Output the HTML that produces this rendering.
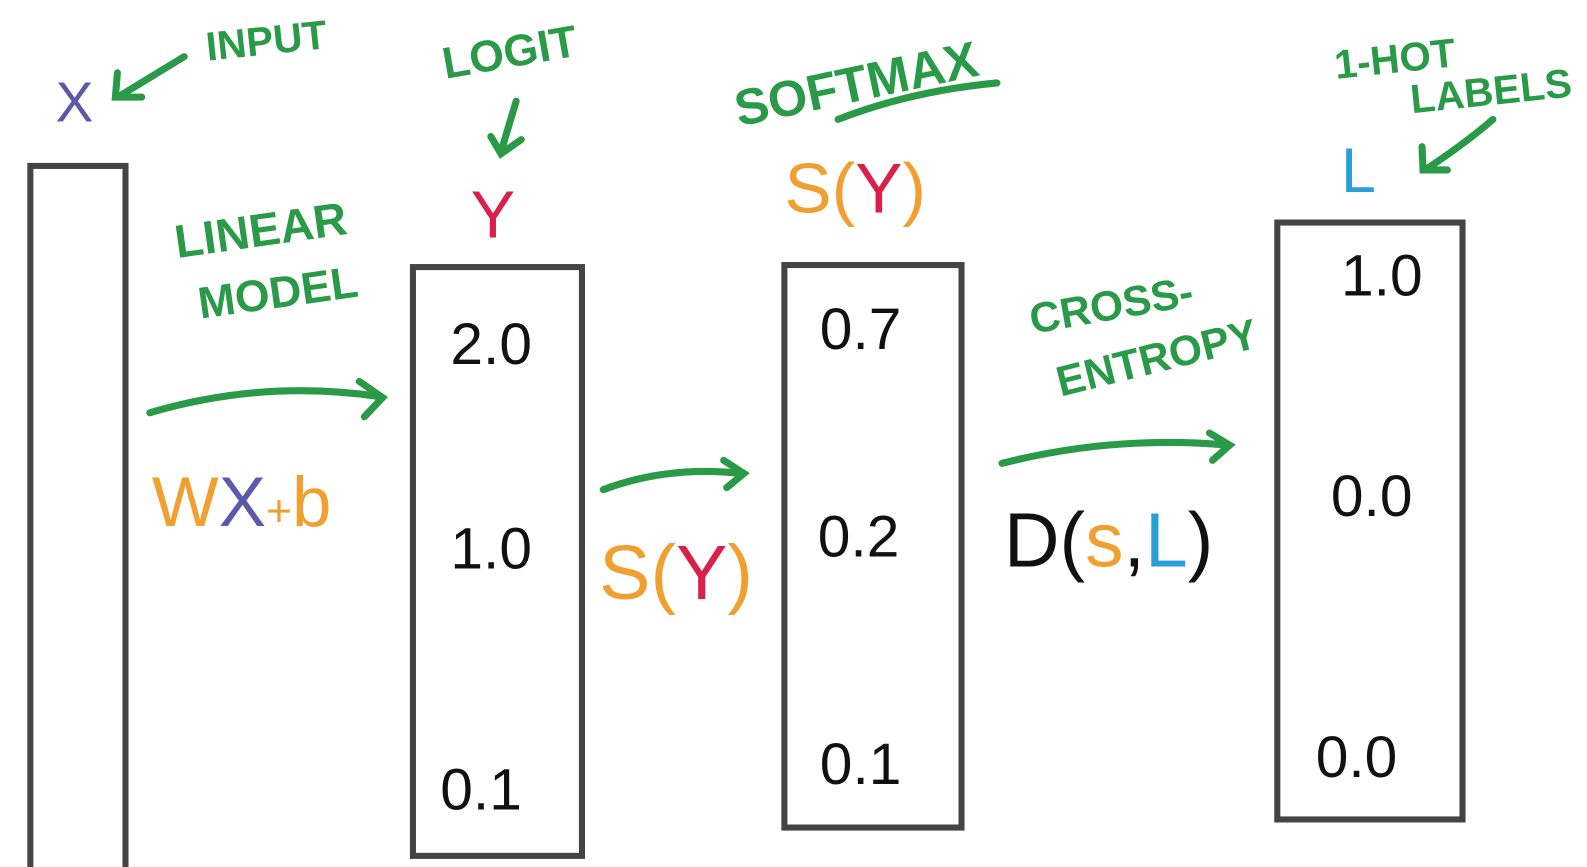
<!DOCTYPE html>
<html><head><meta charset="utf-8"><style>
html,body{margin:0;padding:0;background:#fff;width:1587px;height:867px;overflow:hidden}
svg{display:block}
text{font-family:"Liberation Sans",sans-serif}
.g{fill:#2a9a48;font-weight:bold}
.n{fill:#111;font-size:58px}
</style></head><body>
<svg width="1587" height="867" viewBox="0 0 1568 857" preserveAspectRatio="none">
<g fill="none" stroke="#444" stroke-width="6">
<rect x="30" y="164" width="94" height="710"/>
<rect x="408" y="264" width="167" height="582"/>
<rect x="775" y="262" width="175" height="556"/>
<rect x="1262" y="220" width="183" height="590"/>
</g>
<g fill="none" stroke="#2a9a48" stroke-width="7" stroke-linecap="round">
<path d="M148 408 Q260 375 375 392"/><path d="M355 377 L378 393 L360 412"/>
<path d="M596 484 Q660 460 732 468"/><path d="M715 455 L735 468 L718 482"/>
<path d="M990 458 Q1100 430 1213 440"/><path d="M1195 428 L1215 440 L1198 455"/>
<path d="M182 56 L118 95"/><path d="M116 72 L114 96 L140 96"/>
<path d="M510 100 L495 150"/><path d="M485 135 L495 152 L515 138"/>
<path d="M1475 118 Q1450 140 1408 168"/><path d="M1405 145 L1406 168 L1430 168"/>
<path d="M828 118 Q900 90 985 82"/>
</g>
<text x="55" y="120" font-size="56" fill="#5a5aaa">X</text>
<text x="205" y="60" font-size="40" class="g" transform="rotate(-6 205 60)">INPUT</text>
<text x="440" y="78" font-size="44" class="g" transform="rotate(-10 440 78)">LOGIT</text>
<text x="465" y="235" font-size="66" fill="#d8204a">Y</text>
<text x="175" y="255" font-size="46" class="g" transform="rotate(-8 175 255)">LINEAR</text>
<text x="198" y="315" font-size="44" class="g" transform="rotate(-8 198 315)">MODEL</text>
<text x="730" y="125" font-size="50" class="g" transform="rotate(-12 730 125)">SOFTMAX</text>
<text x="775" y="210" font-size="70" fill="#f0a030">S(<tspan fill="#d8204a">Y</tspan>)</text>
<text x="1320" y="78" font-size="40" class="g" transform="rotate(-6 1320 78)">1-HOT</text>
<text x="1395" y="112" font-size="40" class="g" transform="rotate(-6 1395 112)">LABELS</text>
<text x="1325" y="190" font-size="62" fill="#2aa0d8">L</text>
<text x="150" y="520" font-size="70" fill="#f0a030">W<tspan fill="#5a5aaa">X</tspan><tspan font-size="44">+</tspan>b</text>
<text x="592" y="592" font-size="76" fill="#f0a030">S(<tspan fill="#d8204a">Y</tspan>)</text>
<text x="1020" y="330" font-size="42" class="g" transform="rotate(-10 1020 330)">CROSS-</text>
<text x="1048" y="392" font-size="42" class="g" transform="rotate(-14 1048 392)">ENTROPY</text>
<text x="992" y="560" font-size="76" fill="#111">D(<tspan fill="#f0a030">s</tspan>,<tspan fill="#2aa0d8">L</tspan>)</text>
<text x="445" y="360" class="n">2.0</text>
<text x="445" y="562" class="n">1.0</text>
<text x="435" y="800" class="n">0.1</text>
<text x="810" y="345" class="n">0.7</text>
<text x="808" y="550" class="n">0.2</text>
<text x="810" y="775" class="n">0.1</text>
<text x="1325" y="292" class="n">1.0</text>
<text x="1315" y="510" class="n">0.0</text>
<text x="1300" y="768" class="n">0.0</text>
</svg>
</body></html>
